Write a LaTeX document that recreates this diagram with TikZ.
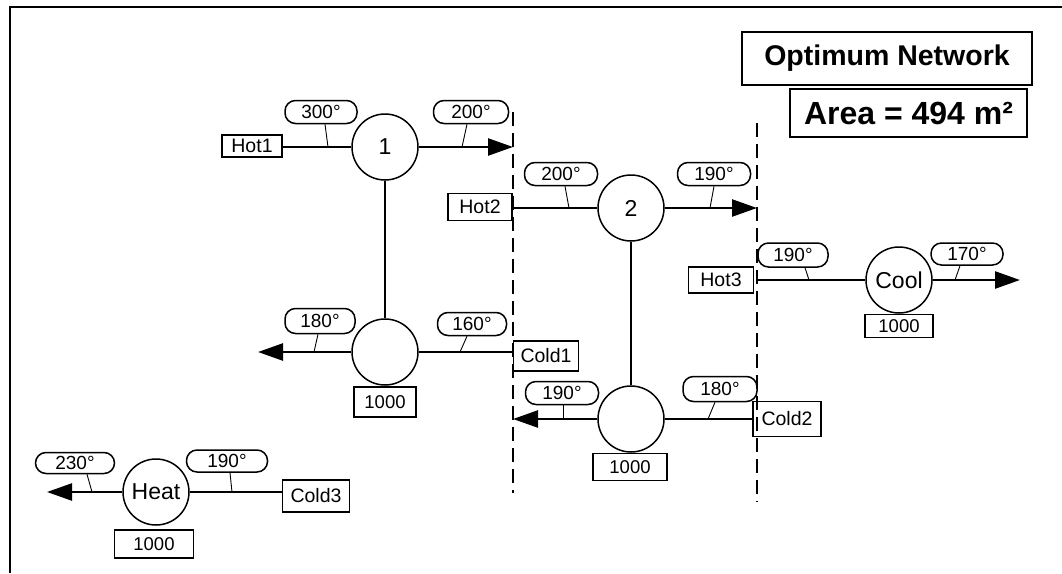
\documentclass[tikz,border=0pt]{standalone}
\usepackage{fontspec}
\setmainfont{Liberation Sans}
\usetikzlibrary{arrows.meta}
\begin{document}
\begin{tikzpicture}[x=1pt,y=-1pt,
  flow/.style={line width=2.5pt},
  arr/.style={flow,-{Triangle[length=25pt,width=17pt]}},
  hx/.style={circle,draw,line width=1.5pt,minimum size=66pt,inner sep=0pt,font=\fontsize{23}{25}\selectfont},
  sbox/.style={draw,line width=1.5pt,inner sep=0pt,font=\fontsize{19.5}{21}\selectfont},
  qbox/.style={draw,line width=1.5pt,inner sep=0pt,font=\fontsize{18.5}{20}\selectfont},
  tlab/.style={draw,rounded corners=10.5pt,line width=1.5pt,inner sep=0pt,minimum width=73pt,minimum height=23pt,font=\fontsize{19}{21}\selectfont},
  tick/.style={line width=0.9pt},
  link/.style={line width=1.6pt},
  divline/.style={line width=1.5pt,dash pattern=on 14pt off 7pt},
  titlebox/.style={draw,line width=1.8pt,inner sep=0pt,font=\fontsize{28.5}{30}\selectfont\bfseries}
]
\useasboundingbox (0,0) rectangle (1062,573);
% frame
\draw[line width=2.2pt] (10,573) -- (10,7) -- (1062,7);

% titles
\node[titlebox,minimum width=290pt,minimum height=53pt] (opt) at (887,58.5) {Optimum Network};
\node[titlebox,minimum width=237pt,minimum height=48pt,font=\fontsize{32}{34}\selectfont\bfseries] (area) at (908.5,113) {Area = 494 m²};

% dividers
\coordinate (d1t) at (513,112); \coordinate (d1b) at (513,493);
\coordinate (d2t) at (757,123); \coordinate (d2b) at (757,502);
\draw[divline] (d1t) -- (d1b);
\draw[divline] (d2t) -- (d2b);

% ---------- exchanger 1 ----------
\node[hx] (ex1) at (385,147) {1};
\node[sbox,minimum width=60pt,minimum height=22pt] (hot1) at (252,146) {Hot1};
\coordinate (e1out) at (513,147);
\draw[flow] (hot1.east |- ex1.west) -- (ex1.west);
\draw[arr] (ex1.east) -- (e1out);
\node[tlab,minimum width=72pt] (t300) at (321,112) {300°};
\node[tlab,minimum width=75pt] (t200a) at (471,112) {200°};
\coordinate (k300) at (328,147); \coordinate (k200a) at (462,147);
\draw[tick] (t300.south) ++(4,0) -- (k300);
\draw[tick] (t200a.south) ++(-4,0) -- (k200a);

\node[hx] (ch1) at (385,352) {};
\draw[link] (ex1.south) -- (ch1.north);
\node[qbox,minimum width=62pt,minimum height=30pt] (q1) at (385,402) {1000};
\node[sbox,minimum width=65pt,minimum height=30pt] (cold1) at (546,356) {Cold1};
\coordinate (c1out) at (258,352);
\draw[flow] (cold1.west |- ch1.east) -- (ch1.east);
\draw[arr] (ch1.west) -- (c1out);
\node[tlab,minimum width=70pt,minimum height=25pt] (t180a) at (320,321) {180°};
\node[tlab,minimum width=69pt] (t160) at (472,324) {160°};
\coordinate (k180a) at (314,352); \coordinate (k160) at (460,352);
\draw[tick] (t180a.south) ++(-2,0) -- (k180a);
\draw[tick] (t160.south) ++(-5,0) -- (k160);

% ---------- exchanger 2 ----------
\node[hx] (ex2) at (631,208) {2};
\node[sbox,minimum width=64pt,minimum height=27pt] (hot2) at (480,207) {Hot2};
\coordinate (e2out) at (757,208);
\draw[flow] (hot2.east |- ex2.west) -- (ex2.west);
\draw[arr] (ex2.east) -- (e2out);
\node[tlab] (t200b) at (561,174) {200°};
\node[tlab] (t190a) at (714,174) {190°};
\coordinate (k200b) at (569,208); \coordinate (k190a) at (710,208);
\draw[tick] (t200b.south) ++(4,0) -- (k200b);
\draw[tick] (t190a.south) ++(0,0) -- (k190a);

\node[hx] (ch2) at (631,419) {};
\draw[link] (ex2.south) -- (ch2.north);
\node[qbox,minimum width=74pt,minimum height=27pt] (q2) at (630,467) {1000};
\node[sbox,minimum width=68pt,minimum height=35pt] (cold2) at (787,419) {Cold2};
\coordinate (c2out) at (513,419);
\draw[flow] (cold2.west |- ch2.east) -- (ch2.east);
\draw[arr] (ch2.west) -- (c2out);
\node[tlab] (t190b) at (562,393) {190°};
\node[tlab,minimum width=74pt,minimum height=25pt] (t180b) at (720,389) {180°};
\coordinate (k190b) at (563,419); \coordinate (k180b) at (708,419);
\draw[tick] (t190b.south) ++(1,0) -- (k190b);
\draw[tick] (t180b.south) ++(-5,0) -- (k180b);

% ---------- cooler ----------
\node[hx] (cool) at (899,280) {Cool};
\node[sbox,minimum width=65pt,minimum height=26pt] (hot3) at (721,280) {Hot3};
\coordinate (coolout) at (1020,280);
\draw[flow] (d2t |- cool.west) -- (cool.west);
\draw[arr] (cool.east) -- (coolout);
\node[qbox,minimum width=68pt,minimum height=23pt] (q3) at (899,326) {1000};
\node[tlab,minimum width=70pt,minimum height=24pt] (t190c) at (793,255) {190°};
\node[tlab,minimum width=72pt,minimum height=22pt] (t170) at (967,254) {170°};
\coordinate (k190c) at (809,280); \coordinate (k170) at (955,280);
\draw[tick] (t190c.south) ++(12,0) -- (k190c);
\draw[tick] (t170.south) ++(-7,0) -- (k170);

% ---------- heater ----------
\node[hx] (heat) at (156,492) {Heat};
\node[sbox,minimum width=67pt,minimum height=32pt] (cold3) at (316,496) {Cold3};
\coordinate (hout) at (47,492);
\draw[flow] (cold3.west |- heat.east) -- (heat.east);
\draw[arr] (heat.west) -- (hout);
\node[qbox,minimum width=79pt,minimum height=28pt] (q4) at (154,544) {1000};
\node[tlab,minimum width=79pt,minimum height=21pt] (t230) at (75,463) {230°};
\node[tlab,minimum width=81pt,minimum height=22pt] (t190d) at (227,461) {190°};
\coordinate (k230) at (92,492); \coordinate (k190d) at (232,492);
\draw[tick] (t230.south) ++(12,0) -- (k230);
\draw[tick] (t190d.south) ++(3,0) -- (k190d);
\end{tikzpicture}
\end{document}
